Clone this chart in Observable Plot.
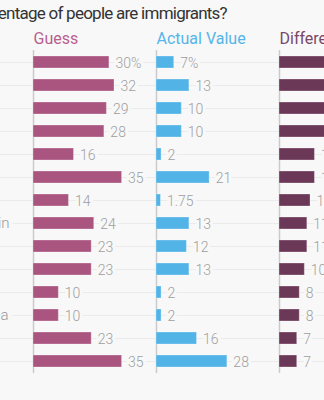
<!DOCTYPE html>
<html><head><meta charset="utf-8">
<script src="https://cdn.jsdelivr.net/npm/d3@7"></script>
<script src="https://cdn.jsdelivr.net/npm/@observablehq/plot@0.6"></script>
<style>
html,body{margin:0;padding:0;background:#f8f8f8;overflow:hidden;width:324px;height:400px;}
#wrap{position:absolute;left:-80px;top:0;width:600px;}
#title{font-family:Roboto,sans-serif;font-size:17px;letter-spacing:-0.75px;color:#333;height:26px;line-height:26px;white-space:nowrap;margin-left:8px;}
svg{max-width:none !important;display:block;}
</style></head><body>
<div id="wrap"><div id="title">What percentage of people are immigrants?</div><div id="chart"></div></div>
<script>
const countries = ["Italy","US","Belgium","France","Hungary","Canada","Poland","Great Britain","Spain","Germany","Japan","South Korea","Sweden","Australia"];
const seriesNames = ["Guess","Actual Value","Difference"];
const guess = [30,32,29,28,16,35,14,24,23,23,10,10,23,35];
const actual = [7,13,10,10,2,21,1.75,13,12,13,2,2,16,28];
const difference = [23,19,19,18,14,14,12.25,11,11,10,8,8,7,7];
const seriesColors = ["#a9557f","#52b3e6","#6b3857"];
const headerColors = ["#b7618f","#55b5e8","#7a4868"];

const bg = "#f8f8f8";
const seriesValues = [guess, actual, difference];
const rows = [];
seriesNames.forEach((s, si) => {
  countries.forEach((c, i) => {
    const v = seriesValues[si][i];
    rows.push({series: s, country: c, value: v, label: i === 0 ? v + "%" : String(v)});
  });
});

const chart = Plot.plot({
  width: 492, height: 374,
  marginTop: 24, marginBottom: 27, marginLeft: 113, marginRight: 10,
  style: {background: bg, fontFamily: "Roboto, sans-serif", overflow: "visible"},
  fx: {domain: seriesNames, padding: 0, axis: null},
  x: {domain: [0, 48.6], axis: null},
  y: {domain: countries, paddingInner: 0.485, paddingOuter: 0.17, axis: null},
  color: {domain: seriesNames, range: seriesColors},
  marks: [
    Plot.axisY({tickSize: 113, tickFormat: () => "", stroke: "#ebebeb"}),
    Plot.ruleY(rows, {fx: "series", y: "country", stroke: "#ebebeb"}),
    Plot.ruleX([0], {stroke: "#cacaca", strokeWidth: 1.5}),
    Plot.barX(rows, {fx: "series", y: "country", x: "value", fill: "series", stroke: "white", strokeOpacity: 0.3}),
    Plot.text(rows, {fx: "series", y: "country", x: "value", text: "label", textAnchor: "start", dx: 6, dy: 1,
      fill: "#9f9f9f", stroke: bg, strokeWidth: 6, paintOrder: "stroke", fontSize: 14, fontWeight: 300}),
    Plot.text(rows.filter(d => d.series === "Guess"), {fx: "series", y: "country", text: "country", frameAnchor: "left",
      textAnchor: "start", dx: -105.5, fill: "#9a9a9a", stroke: bg, strokeWidth: 8, paintOrder: "stroke", fontSize: 15, fontWeight: 300}),
    ...seriesNames.map((s, i) => Plot.text([s], {fx: d => d, text: d => d, frameAnchor: "top-left", textAnchor: "start",
      lineAnchor: "bottom", dy: -7, fill: headerColors[i], fontSize: 16}))
  ]
});
document.getElementById("chart").appendChild(chart);
</script>
</body></html>
